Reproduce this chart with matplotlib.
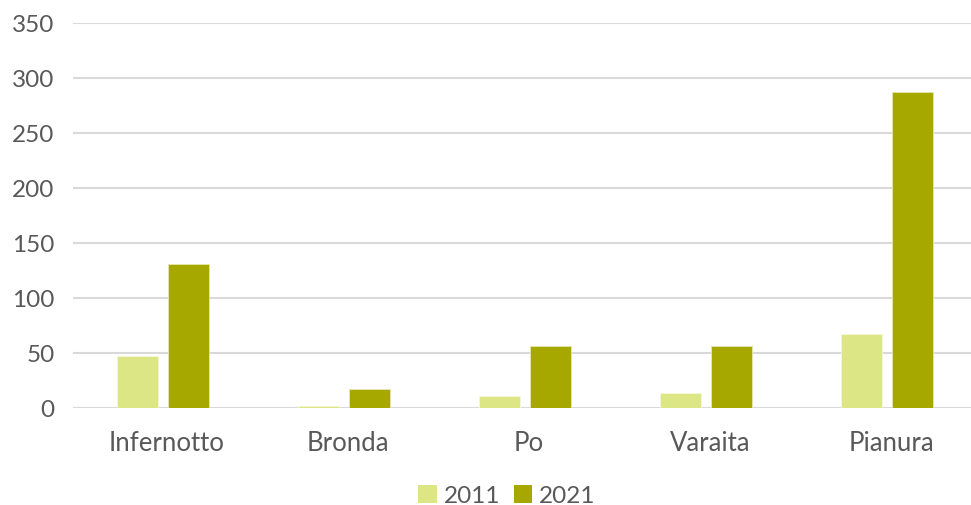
import matplotlib
matplotlib.use("Agg")
import matplotlib.pyplot as plt
import matplotlib.transforms as mtransforms
import numpy as np
from matplotlib.patches import Patch

categories = ["Infernotto", "Bronda", "Po", "Varaita", "Pianura"]
values_2011 = [47, 2, 11, 14, 67]
values_2021 = [131, 17, 56, 56, 287]
series_labels = ["2011", "2021"]
yticks = [0, 50, 100, 150, 200, 250, 300, 350]

col_2011 = "#DCE685"
col_2021 = "#A6A800"
text_col = "#595959"
grid_col = "#D9D9D9"

plt.rcParams["font.family"] = ["Lato", "DejaVu Sans"]

fig = plt.figure(figsize=(9.71, 5.06), dpi=100)
ax = fig.add_axes([72.5 / 971, 1 - 409 / 506, 905 / 971, 385 / 506])

x = np.arange(len(categories))
w = 0.226
gap = 0.058
ax.bar(x - (w + gap) / 2, values_2011, width=w, color=col_2011,
       edgecolor="#F4F7DA", linewidth=0.6, zorder=3)
ax.bar(x + (w + gap) / 2, values_2021, width=w, color=col_2021,
       edgecolor="#E6E8B0", linewidth=0.6, zorder=3)

ax.set_xlim(-0.5, len(categories) - 0.5)
ax.set_ylim(0, 350)
ax.set_yticks(yticks)
ax.set_yticklabels([str(v) for v in yticks])
ax.set_xticks(x)
ax.set_xticklabels(categories)

ax.yaxis.grid(True, color=grid_col, linewidth=1.5, zorder=0)
ax.set_axisbelow(True)
for s in ax.spines.values():
    s.set_visible(False)
ax.tick_params(axis="both", length=0, colors=text_col)
ax.tick_params(axis="y", pad=13, labelsize=17.5)
ax.tick_params(axis="x", pad=16, labelsize=18.5)

# nudge category labels slightly to the right
shift = mtransforms.ScaledTranslation(4 / 100, 0, fig.dpi_scale_trans)
for lbl in ax.get_xticklabels():
    lbl.set_transform(lbl.get_transform() + shift)

handles = [Patch(facecolor=col_2011), Patch(facecolor=col_2021)]
fig.legend(handles, series_labels, loc="center", bbox_to_anchor=(507 / 971, 1 - 496.5 / 506),
           ncol=2, frameon=False, fontsize=17.5, labelcolor=text_col,
           handlelength=0.75, handleheight=0.75, handletextpad=0.3, columnspacing=0.55)

fig.savefig("out.png", dpi=100, facecolor="white")
